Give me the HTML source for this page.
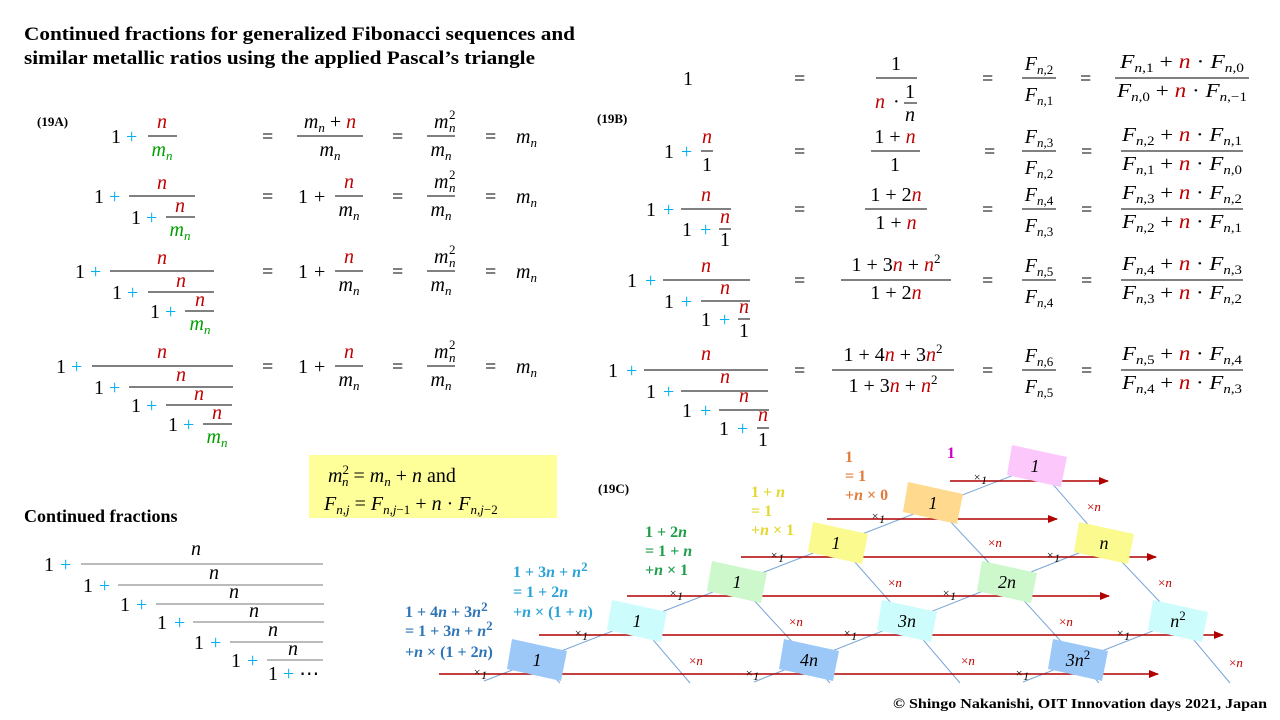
<!DOCTYPE html>
<html><head><meta charset="utf-8"><style>
html,body{margin:0;padding:0;background:#fff}
svg{display:block}
text{font-family:"Liberation Serif",serif;font-size:20px;fill:#000}
.i{font-style:italic}
.s{font-size:13px}
.r{fill:#c00000}
.c{fill:#00b0f0}
.g{fill:#00a000}
.b{font-weight:bold}
.lbl{font-weight:bold;font-size:13px}
.an{font-weight:bold;font-size:16px}
.bx{font-style:italic;font-size:18px}
.x1{font-size:12px;font-style:italic}
.xn{font-size:13px;fill:#c00000}
</style></head><body>
<svg width="1280" height="720" viewBox="0 0 1280 720" xmlns="http://www.w3.org/2000/svg">
<defs>
<marker id="ah" markerWidth="10" markerHeight="8" refX="9" refY="4" orient="auto" markerUnits="userSpaceOnUse">
<path d="M0,0 L10,4 L0,8 z" fill="#b00000"/></marker>
</defs>

<!-- Title -->
<text x="24" y="40" class="b" style="font-size:19px" textLength="551" lengthAdjust="spacingAndGlyphs">Continued  fractions  for  generalized  Fibonacci  sequences  and</text>
<text x="24" y="64" class="b" style="font-size:19px" textLength="511" lengthAdjust="spacingAndGlyphs">similar  metallic  ratios  using  the  applied  Pascal’s  triangle</text>

<!-- ===== 19A ===== -->
<text x="37" y="126" class="lbl">(19A)</text>
<g stroke="#000" stroke-width="1">
<line x1="148" y1="136" x2="177" y2="136"/>
<line x1="297" y1="136" x2="363" y2="136"/>
<line x1="427" y1="136" x2="455" y2="136"/>
<line x1="129" y1="196" x2="195" y2="196"/><line x1="166" y1="217" x2="195" y2="217"/>
<line x1="110" y1="271" x2="214" y2="271"/><line x1="148" y1="292" x2="214" y2="292"/><line x1="185" y1="311" x2="214" y2="311"/>
<line x1="92" y1="366" x2="233" y2="366"/><line x1="129" y1="387" x2="233" y2="387"/><line x1="166" y1="405" x2="232" y2="405"/><line x1="203" y1="424" x2="232" y2="424"/>
<line x1="335" y1="196" x2="363" y2="196"/><line x1="427" y1="196" x2="455" y2="196"/>
<line x1="335" y1="271" x2="363" y2="271"/><line x1="427" y1="271" x2="455" y2="271"/>
<line x1="335" y1="366" x2="363" y2="366"/><line x1="427" y1="366" x2="455" y2="366"/>
</g>
<!-- row1 -->
<text x="111" y="143">1</text><text x="126" y="143" class="c">+</text>
<text x="162" y="128" text-anchor="middle" class="i r">n</text>
<text x="162" y="156" text-anchor="middle" class="g"><tspan class="i">m</tspan><tspan class="s i" dy="4">n</tspan></text>
<!-- row2 -->
<text x="94" y="203">1</text><text x="109" y="203" class="c">+</text>
<text x="162" y="189" text-anchor="middle" class="i r">n</text>
<text x="131" y="224">1</text><text x="146" y="224" class="c">+</text>
<text x="180" y="212" text-anchor="middle" class="i r">n</text>
<text x="180" y="236" text-anchor="middle" class="g"><tspan class="i">m</tspan><tspan class="s i" dy="4">n</tspan></text>
<!-- row3 -->
<text x="75" y="278">1</text><text x="90" y="278" class="c">+</text>
<text x="162" y="264" text-anchor="middle" class="i r">n</text>
<text x="112" y="299">1</text><text x="127" y="299" class="c">+</text>
<text x="181" y="287" text-anchor="middle" class="i r">n</text>
<text x="150" y="318">1</text><text x="165" y="318" class="c">+</text>
<text x="200" y="306" text-anchor="middle" class="i r">n</text>
<text x="200" y="330" text-anchor="middle" class="g"><tspan class="i">m</tspan><tspan class="s i" dy="4">n</tspan></text>
<!-- row4 -->
<text x="56" y="373">1</text><text x="71" y="373" class="c">+</text>
<text x="162" y="358" text-anchor="middle" class="i r">n</text>
<text x="94" y="394">1</text><text x="109" y="394" class="c">+</text>
<text x="181" y="381" text-anchor="middle" class="i r">n</text>
<text x="131" y="412">1</text><text x="146" y="412" class="c">+</text>
<text x="199" y="400" text-anchor="middle" class="i r">n</text>
<text x="168" y="431">1</text><text x="183" y="431" class="c">+</text>
<text x="217" y="419" text-anchor="middle" class="i r">n</text>
<text x="217" y="443" text-anchor="middle" class="g"><tspan class="i">m</tspan><tspan class="s i" dy="4">n</tspan></text>
<!-- right columns 19A -->
<g>
<text x="262" y="143">=</text><text x="392" y="143">=</text><text x="485" y="143">=</text>
<text x="330" y="128" text-anchor="middle"><tspan class="i">m</tspan><tspan class="s i" dy="4">n</tspan><tspan dy="-4"> + </tspan><tspan class="i r">n</tspan></text>
<text x="330" y="156" text-anchor="middle"><tspan class="i">m</tspan><tspan class="s i" dy="4">n</tspan></text>
<text x="516" y="143"><tspan class="i">m</tspan><tspan class="s i" dy="4">n</tspan></text>
</g>
<g id="mm">
<text x="434" y="128" class="i">m</text><text x="449" y="119" class="s">2</text><text x="449" y="132" class="s i">n</text>
<text x="441" y="156" text-anchor="middle"><tspan class="i">m</tspan><tspan class="s i" dy="4">n</tspan></text>
</g>
<g transform="translate(0,60)">
<text x="262" y="143">=</text><text x="392" y="143">=</text><text x="485" y="143">=</text>
<text x="298" y="143">1</text><text x="314" y="143">+</text>
<text x="349" y="128" text-anchor="middle" class="i r">n</text>
<text x="349" y="156" text-anchor="middle"><tspan class="i">m</tspan><tspan class="s i" dy="4">n</tspan></text>
<use href="#mm"/>
<text x="516" y="143"><tspan class="i">m</tspan><tspan class="s i" dy="4">n</tspan></text>
</g>
<g transform="translate(0,135)">
<text x="262" y="143">=</text><text x="392" y="143">=</text><text x="485" y="143">=</text>
<text x="298" y="143">1</text><text x="314" y="143">+</text>
<text x="349" y="128" text-anchor="middle" class="i r">n</text>
<text x="349" y="156" text-anchor="middle"><tspan class="i">m</tspan><tspan class="s i" dy="4">n</tspan></text>
<use href="#mm"/>
<text x="516" y="143"><tspan class="i">m</tspan><tspan class="s i" dy="4">n</tspan></text>
</g>
<g transform="translate(0,230)">
<text x="262" y="143">=</text><text x="392" y="143">=</text><text x="485" y="143">=</text>
<text x="298" y="143">1</text><text x="314" y="143">+</text>
<text x="349" y="128" text-anchor="middle" class="i r">n</text>
<text x="349" y="156" text-anchor="middle"><tspan class="i">m</tspan><tspan class="s i" dy="4">n</tspan></text>
<use href="#mm"/>
<text x="516" y="143"><tspan class="i">m</tspan><tspan class="s i" dy="4">n</tspan></text>
</g>

<!-- ===== 19B ===== -->
<text x="597" y="123" class="lbl">(19B)</text>
<g stroke="#000" stroke-width="1">
<line x1="876" y1="78" x2="917" y2="78"/><line x1="904" y1="103" x2="917" y2="103"/>
<line x1="701" y1="151" x2="713" y2="151"/><line x1="871" y1="151" x2="920" y2="151"/>
<line x1="681" y1="209" x2="731" y2="209"/><line x1="719" y1="229" x2="731" y2="229"/><line x1="865" y1="209" x2="927" y2="209"/>
<line x1="663" y1="280" x2="750" y2="280"/><line x1="701" y1="301" x2="750" y2="301"/><line x1="738" y1="319" x2="750" y2="319"/><line x1="841" y1="280" x2="951" y2="280"/>
<line x1="644" y1="370" x2="768" y2="370"/><line x1="681" y1="391" x2="768" y2="391"/><line x1="719" y1="410" x2="769" y2="410"/><line x1="757" y1="428" x2="769" y2="428"/><line x1="832" y1="370" x2="954" y2="370"/>
<line x1="1022" y1="78" x2="1056" y2="78"/><line x1="1115" y1="78" x2="1249" y2="78"/>
<line x1="1022" y1="151" x2="1056" y2="151"/><line x1="1121" y1="151" x2="1243" y2="151"/>
<line x1="1022" y1="209" x2="1056" y2="209"/><line x1="1121" y1="209" x2="1243" y2="209"/>
<line x1="1022" y1="280" x2="1056" y2="280"/><line x1="1121" y1="280" x2="1243" y2="280"/>
<line x1="1022" y1="370" x2="1056" y2="370"/><line x1="1121" y1="370" x2="1243" y2="370"/>
</g>
<!-- row0 -->
<text x="683" y="85">1</text>
<text x="896" y="70" text-anchor="middle">1</text>
<text x="875" y="108" class="i r">n</text><text x="893" y="108">·</text>
<text x="910" y="98" text-anchor="middle">1</text><text x="910" y="121" text-anchor="middle" class="i">n</text>
<!-- row1 -->
<text x="664" y="158">1</text><text x="681" y="158" class="c">+</text>
<text x="707" y="143" text-anchor="middle" class="i r">n</text><text x="707" y="171" text-anchor="middle">1</text>
<text x="895" y="143" text-anchor="middle">1 + <tspan class="i r">n</tspan></text><text x="895" y="171" text-anchor="middle">1</text>
<!-- row2 -->
<text x="646" y="216">1</text><text x="663" y="216" class="c">+</text>
<text x="706" y="201" text-anchor="middle" class="i r">n</text>
<text x="682" y="236">1</text><text x="700" y="236" class="c">+</text>
<text x="725" y="223" text-anchor="middle" class="i r">n</text><text x="725" y="246" text-anchor="middle">1</text>
<text x="896" y="201" text-anchor="middle">1 + 2<tspan class="i r">n</tspan></text>
<text x="896" y="229" text-anchor="middle">1 + <tspan class="i r">n</tspan></text>
<!-- row3 -->
<text x="627" y="287">1</text><text x="645" y="287" class="c">+</text>
<text x="706" y="272" text-anchor="middle" class="i r">n</text>
<text x="664" y="308">1</text><text x="681" y="308" class="c">+</text>
<text x="725" y="294" text-anchor="middle" class="i r">n</text>
<text x="701" y="326">1</text><text x="719" y="326" class="c">+</text>
<text x="744" y="313" text-anchor="middle" class="i r">n</text><text x="744" y="337" text-anchor="middle">1</text>
<text x="896" y="271" text-anchor="middle">1 + 3<tspan class="i r">n</tspan> + <tspan class="i r">n</tspan><tspan class="s" dy="-8">2</tspan></text>
<text x="896" y="299" text-anchor="middle">1 + 2<tspan class="i r">n</tspan></text>
<!-- row4 -->
<text x="608" y="377">1</text><text x="626" y="377" class="c">+</text>
<text x="706" y="360" text-anchor="middle" class="i r">n</text>
<text x="646" y="398">1</text><text x="663" y="398" class="c">+</text>
<text x="725" y="383" text-anchor="middle" class="i r">n</text>
<text x="682" y="417">1</text><text x="700" y="417" class="c">+</text>
<text x="744" y="402" text-anchor="middle" class="i r">n</text>
<text x="719" y="435">1</text><text x="737" y="435" class="c">+</text>
<text x="763" y="421" text-anchor="middle" class="i r">n</text><text x="763" y="446" text-anchor="middle">1</text>
<text x="893" y="361" text-anchor="middle">1 + 4<tspan class="i r">n</tspan> + 3<tspan class="i r">n</tspan><tspan class="s" dy="-8">2</tspan></text>
<text x="893" y="392" text-anchor="middle">1 + 3<tspan class="i r">n</tspan> + <tspan class="i r">n</tspan><tspan class="s" dy="-8">2</tspan></text>
<!-- equals 19B -->
<g>
<text x="794" y="85">=</text><text x="982" y="85">=</text><text x="1080" y="85">=</text>
<text x="794" y="158">=</text><text x="984" y="158">=</text><text x="1081" y="158">=</text>
<text x="794" y="216">=</text><text x="982" y="216">=</text><text x="1081" y="216">=</text>
<text x="794" y="287">=</text><text x="982" y="287">=</text><text x="1081" y="287">=</text>
<text x="794" y="377">=</text><text x="982" y="377">=</text><text x="1081" y="377">=</text>
</g>
<!-- F columns -->
<g>
<text x="1039" y="70" text-anchor="middle"><tspan class="i">F</tspan><tspan class="s" dy="4"><tspan class="i">n</tspan>,2</tspan></text>
<text x="1039" y="101" text-anchor="middle"><tspan class="i">F</tspan><tspan class="s" dy="4"><tspan class="i">n</tspan>,1</tspan></text>
<text x="1182" y="68" text-anchor="middle" textLength="124" lengthAdjust="spacingAndGlyphs"><tspan class="i">F</tspan><tspan class="s" dy="4"><tspan class="i">n</tspan>,1</tspan><tspan dy="-4"> + </tspan><tspan class="i r">n</tspan> · <tspan class="i">F</tspan><tspan class="s" dy="4"><tspan class="i">n</tspan>,0</tspan></text>
<text x="1182" y="97" text-anchor="middle" textLength="130" lengthAdjust="spacingAndGlyphs"><tspan class="i">F</tspan><tspan class="s" dy="4"><tspan class="i">n</tspan>,0</tspan><tspan dy="-4"> + </tspan><tspan class="i r">n</tspan> · <tspan class="i">F</tspan><tspan class="s" dy="4"><tspan class="i">n</tspan>,−1</tspan></text>
</g>
<g transform="translate(0,73)">
<text x="1039" y="70" text-anchor="middle"><tspan class="i">F</tspan><tspan class="s" dy="4"><tspan class="i">n</tspan>,3</tspan></text>
<text x="1039" y="101" text-anchor="middle"><tspan class="i">F</tspan><tspan class="s" dy="4"><tspan class="i">n</tspan>,2</tspan></text>
<text x="1182" y="68" text-anchor="middle" textLength="120" lengthAdjust="spacingAndGlyphs"><tspan class="i">F</tspan><tspan class="s" dy="4"><tspan class="i">n</tspan>,2</tspan><tspan dy="-4"> + </tspan><tspan class="i r">n</tspan> · <tspan class="i">F</tspan><tspan class="s" dy="4"><tspan class="i">n</tspan>,1</tspan></text>
<text x="1182" y="97" text-anchor="middle" textLength="120" lengthAdjust="spacingAndGlyphs"><tspan class="i">F</tspan><tspan class="s" dy="4"><tspan class="i">n</tspan>,1</tspan><tspan dy="-4"> + </tspan><tspan class="i r">n</tspan> · <tspan class="i">F</tspan><tspan class="s" dy="4"><tspan class="i">n</tspan>,0</tspan></text>
</g>
<g transform="translate(0,131)">
<text x="1039" y="70" text-anchor="middle"><tspan class="i">F</tspan><tspan class="s" dy="4"><tspan class="i">n</tspan>,4</tspan></text>
<text x="1039" y="101" text-anchor="middle"><tspan class="i">F</tspan><tspan class="s" dy="4"><tspan class="i">n</tspan>,3</tspan></text>
<text x="1182" y="68" text-anchor="middle" textLength="120" lengthAdjust="spacingAndGlyphs"><tspan class="i">F</tspan><tspan class="s" dy="4"><tspan class="i">n</tspan>,3</tspan><tspan dy="-4"> + </tspan><tspan class="i r">n</tspan> · <tspan class="i">F</tspan><tspan class="s" dy="4"><tspan class="i">n</tspan>,2</tspan></text>
<text x="1182" y="97" text-anchor="middle" textLength="120" lengthAdjust="spacingAndGlyphs"><tspan class="i">F</tspan><tspan class="s" dy="4"><tspan class="i">n</tspan>,2</tspan><tspan dy="-4"> + </tspan><tspan class="i r">n</tspan> · <tspan class="i">F</tspan><tspan class="s" dy="4"><tspan class="i">n</tspan>,1</tspan></text>
</g>
<g transform="translate(0,202)">
<text x="1039" y="70" text-anchor="middle"><tspan class="i">F</tspan><tspan class="s" dy="4"><tspan class="i">n</tspan>,5</tspan></text>
<text x="1039" y="101" text-anchor="middle"><tspan class="i">F</tspan><tspan class="s" dy="4"><tspan class="i">n</tspan>,4</tspan></text>
<text x="1182" y="68" text-anchor="middle" textLength="120" lengthAdjust="spacingAndGlyphs"><tspan class="i">F</tspan><tspan class="s" dy="4"><tspan class="i">n</tspan>,4</tspan><tspan dy="-4"> + </tspan><tspan class="i r">n</tspan> · <tspan class="i">F</tspan><tspan class="s" dy="4"><tspan class="i">n</tspan>,3</tspan></text>
<text x="1182" y="97" text-anchor="middle" textLength="120" lengthAdjust="spacingAndGlyphs"><tspan class="i">F</tspan><tspan class="s" dy="4"><tspan class="i">n</tspan>,3</tspan><tspan dy="-4"> + </tspan><tspan class="i r">n</tspan> · <tspan class="i">F</tspan><tspan class="s" dy="4"><tspan class="i">n</tspan>,2</tspan></text>
</g>
<g transform="translate(0,292)">
<text x="1039" y="70" text-anchor="middle"><tspan class="i">F</tspan><tspan class="s" dy="4"><tspan class="i">n</tspan>,6</tspan></text>
<text x="1039" y="101" text-anchor="middle"><tspan class="i">F</tspan><tspan class="s" dy="4"><tspan class="i">n</tspan>,5</tspan></text>
<text x="1182" y="68" text-anchor="middle" textLength="120" lengthAdjust="spacingAndGlyphs"><tspan class="i">F</tspan><tspan class="s" dy="4"><tspan class="i">n</tspan>,5</tspan><tspan dy="-4"> + </tspan><tspan class="i r">n</tspan> · <tspan class="i">F</tspan><tspan class="s" dy="4"><tspan class="i">n</tspan>,4</tspan></text>
<text x="1182" y="97" text-anchor="middle" textLength="120" lengthAdjust="spacingAndGlyphs"><tspan class="i">F</tspan><tspan class="s" dy="4"><tspan class="i">n</tspan>,4</tspan><tspan dy="-4"> + </tspan><tspan class="i r">n</tspan> · <tspan class="i">F</tspan><tspan class="s" dy="4"><tspan class="i">n</tspan>,3</tspan></text>
</g>

<!-- Yellow box -->
<rect x="309" y="455" width="248" height="63" fill="#ffff99"/>
<text x="328" y="482"><tspan class="i">m</tspan><tspan class="s" dy="-8">2</tspan><tspan class="s i" dx="-7" dy="12">n</tspan><tspan dy="-4"> = </tspan><tspan class="i">m</tspan><tspan class="s i" dy="4">n</tspan><tspan dy="-4"> + </tspan><tspan class="i">n</tspan>  and</text>
<text x="324" y="510"><tspan class="i">F</tspan><tspan class="s i" dy="4">n,j</tspan><tspan dy="-4"> = </tspan><tspan class="i">F</tspan><tspan class="s" dy="4"><tspan class="i">n,j</tspan>−1</tspan><tspan dy="-4"> + </tspan><tspan class="i">n</tspan> · <tspan class="i">F</tspan><tspan class="s" dy="4"><tspan class="i">n,j</tspan>−2</tspan></text>

<!-- Continued fractions -->
<text x="24" y="522" class="b" style="font-size:18px">Continued  fractions</text>
<g stroke="#777" stroke-width="1">
<line x1="81" y1="564" x2="323" y2="564"/>
<line x1="118" y1="585" x2="323" y2="585"/>
<line x1="156" y1="604" x2="324" y2="604"/>
<line x1="193" y1="622" x2="324" y2="622"/>
<line x1="230" y1="642" x2="323" y2="642"/>
<line x1="267" y1="660" x2="323" y2="660"/>
</g>
<text x="44" y="571">1</text><text x="60" y="571" class="c">+</text><text x="196" y="555" class="i" text-anchor="middle">n</text>
<text x="83" y="592">1</text><text x="99" y="592" class="c">+</text><text x="214" y="579" class="i" text-anchor="middle">n</text>
<text x="120" y="611">1</text><text x="136" y="611" class="c">+</text><text x="234" y="598" class="i" text-anchor="middle">n</text>
<text x="157" y="629">1</text><text x="174" y="629" class="c">+</text><text x="254" y="617" class="i" text-anchor="middle">n</text>
<text x="194" y="649">1</text><text x="210" y="649" class="c">+</text><text x="273" y="636" class="i" text-anchor="middle">n</text>
<text x="231" y="667">1</text><text x="247" y="667" class="c">+</text><text x="293" y="655" class="i" text-anchor="middle">n</text>
<text x="268" y="680">1 <tspan class="c">+</tspan> ⋯</text>

<!-- ===== 19C ===== -->
<text x="598" y="493" class="lbl">(19C)</text>
<!-- blue lines -->
<g stroke="#7aa6d6" stroke-width="1" fill="none">
<polyline points="484,681 1037,466"/>
<polyline points="754,682 1104,543"/>
<polyline points="1023,682 1178,621"/>
<polyline points="1037,466 1104,543 1178,621 1230,683"/>
<polyline points="933,503 1007,582 1078,660 1099,683"/>
<polyline points="838,543 907,621 960,683"/>
<polyline points="737,582 809,660 830,683"/>
<polyline points="637,621 690,683"/>
<polyline points="537,660 560,683"/>
</g>
<!-- arrows -->
<g stroke="#b00000" stroke-width="1.5" marker-end="url(#ah)">
<line x1="950" y1="481" x2="1108" y2="481"/>
<line x1="827" y1="519" x2="1057" y2="519"/>
<line x1="741" y1="557" x2="1156" y2="557"/>
<line x1="627" y1="596" x2="1109" y2="596"/>
<line x1="539" y1="635" x2="1223" y2="635"/>
<line x1="439" y1="674" x2="1158" y2="674"/>
</g>
<!-- boxes -->
<g>
<polygon transform="translate(1037,466)" points="-25,-21 30,-9 24,21 -30,9" fill="#fcc8fc"/>
<polygon transform="translate(933,503)" points="-25,-21 30,-9 24,21 -30,9" fill="#fed98e"/>
<polygon transform="translate(838,543)" points="-25,-21 30,-9 24,21 -30,9" fill="#fafa8e"/>
<polygon transform="translate(1104,543)" points="-25,-21 30,-9 24,21 -30,9" fill="#fafa8e"/>
<polygon transform="translate(737,582)" points="-25,-21 30,-9 24,21 -30,9" fill="#ccf8cc"/>
<polygon transform="translate(1007,582)" points="-25,-21 30,-9 24,21 -30,9" fill="#ccf8cc"/>
<polygon transform="translate(637,621)" points="-25,-21 30,-9 24,21 -30,9" fill="#ccfcfc"/>
<polygon transform="translate(907,621)" points="-25,-21 30,-9 24,21 -30,9" fill="#ccfcfc"/>
<polygon transform="translate(1178,621)" points="-25,-21 30,-9 24,21 -30,9" fill="#ccfcfc"/>
<polygon transform="translate(537,660)" points="-25,-21 30,-9 24,21 -30,9" fill="#9cc8f8"/>
<polygon transform="translate(809,660)" points="-25,-21 30,-9 24,21 -30,9" fill="#9cc8f8"/>
<polygon transform="translate(1078,660)" points="-25,-21 30,-9 24,21 -30,9" fill="#9cc8f8"/>
</g>
<g class="bx" text-anchor="middle">
<text x="1035" y="472" class="bx">1</text>
<text x="933" y="509" class="bx">1</text>
<text x="836" y="549" class="bx">1</text>
<text x="1104" y="549" class="bx">n</text>
<text x="737" y="588" class="bx">1</text>
<text x="1007" y="588" class="bx">2n</text>
<text x="637" y="627" class="bx">1</text>
<text x="907" y="627" class="bx">3n</text>
<text x="1178" y="627" class="bx">n<tspan class="s" style="font-style:normal" dy="-7">2</tspan></text>
<text x="537" y="666" class="bx">1</text>
<text x="809" y="666" class="bx">4n</text>
<text x="1078" y="666" class="bx">3n<tspan class="s" style="font-style:normal" dy="-7">2</tspan></text>
</g>
<!-- x1 labels -->
<g class="x1">
<text x="973" y="481" class="x1">×<tspan dy="3">1</tspan></text>
<text x="871" y="520" class="x1">×<tspan dy="3">1</tspan></text>
<text x="770" y="559" class="x1">×<tspan dy="3">1</tspan></text>
<text x="1046" y="559" class="x1">×<tspan dy="3">1</tspan></text>
<text x="669" y="597" class="x1">×<tspan dy="3">1</tspan></text>
<text x="942" y="597" class="x1">×<tspan dy="3">1</tspan></text>
<text x="574" y="637" class="x1">×<tspan dy="3">1</tspan></text>
<text x="843" y="637" class="x1">×<tspan dy="3">1</tspan></text>
<text x="1116" y="637" class="x1">×<tspan dy="3">1</tspan></text>
<text x="473" y="676" class="x1">×<tspan dy="3">1</tspan></text>
<text x="745" y="677" class="x1">×<tspan dy="3">1</tspan></text>
<text x="1015" y="677" class="x1">×<tspan dy="3">1</tspan></text>
</g>
<!-- xn labels -->
<g>
<text x="1087" y="511" class="xn">×<tspan class="i">n</tspan></text>
<text x="988" y="547" class="xn">×<tspan class="i">n</tspan></text>
<text x="1158" y="587" class="xn">×<tspan class="i">n</tspan></text>
<text x="888" y="587" class="xn">×<tspan class="i">n</tspan></text>
<text x="789" y="626" class="xn">×<tspan class="i">n</tspan></text>
<text x="1059" y="626" class="xn">×<tspan class="i">n</tspan></text>
<text x="689" y="665" class="xn">×<tspan class="i">n</tspan></text>
<text x="961" y="665" class="xn">×<tspan class="i">n</tspan></text>
<text x="1229" y="667" class="xn">×<tspan class="i">n</tspan></text>
</g>
<!-- annotations -->
<text x="947" y="458" class="an" style="fill:#cc00cc">1</text>
<g class="an" style="fill:#e07b39">
<text x="845" y="462" class="an" style="fill:#e07b39">1</text>
<text x="845" y="481" class="an" style="fill:#e07b39">= 1</text>
<text x="845" y="500" class="an" style="fill:#e07b39">+<tspan class="i">n</tspan> × 0</text>
</g>
<text x="751" y="497" class="an" style="fill:#e2d82e">1 + <tspan class="i">n</tspan></text>
<text x="751" y="516" class="an" style="fill:#e2d82e">= 1</text>
<text x="751" y="535" class="an" style="fill:#e2d82e">+<tspan class="i">n</tspan> × 1</text>
<text x="645" y="537" class="an" style="fill:#1f9e4a">1 + 2<tspan class="i">n</tspan></text>
<text x="645" y="556" class="an" style="fill:#1f9e4a">= 1 + <tspan class="i">n</tspan></text>
<text x="645" y="575" class="an" style="fill:#1f9e4a">+<tspan class="i">n</tspan> × 1</text>
<text x="513" y="577" class="an" style="fill:#2aa3d6">1 + 3<tspan class="i">n</tspan> + <tspan class="i">n</tspan><tspan class="s" dy="-6">2</tspan></text>
<text x="513" y="597" class="an" style="fill:#2aa3d6">= 1 + 2<tspan class="i">n</tspan></text>
<text x="513" y="617" class="an" style="fill:#2aa3d6">+<tspan class="i">n</tspan> × (1 + <tspan class="i">n</tspan>)</text>
<text x="405" y="617" class="an" style="fill:#2e75b6">1 + 4<tspan class="i">n</tspan> + 3<tspan class="i">n</tspan><tspan class="s" dy="-6">2</tspan></text>
<text x="405" y="636" class="an" style="fill:#2e75b6">= 1 + 3<tspan class="i">n</tspan> + <tspan class="i">n</tspan><tspan class="s" dy="-6">2</tspan></text>
<text x="405" y="657" class="an" style="fill:#2e75b6">+<tspan class="i">n</tspan> × (1 + 2<tspan class="i">n</tspan>)</text>

<text x="893" y="708" class="lbl" style="font-size:14px" textLength="374" lengthAdjust="spacingAndGlyphs">© Shingo  Nakanishi,  OIT  Innovation   days  2021,  Japan</text>
</svg>
</body></html>
